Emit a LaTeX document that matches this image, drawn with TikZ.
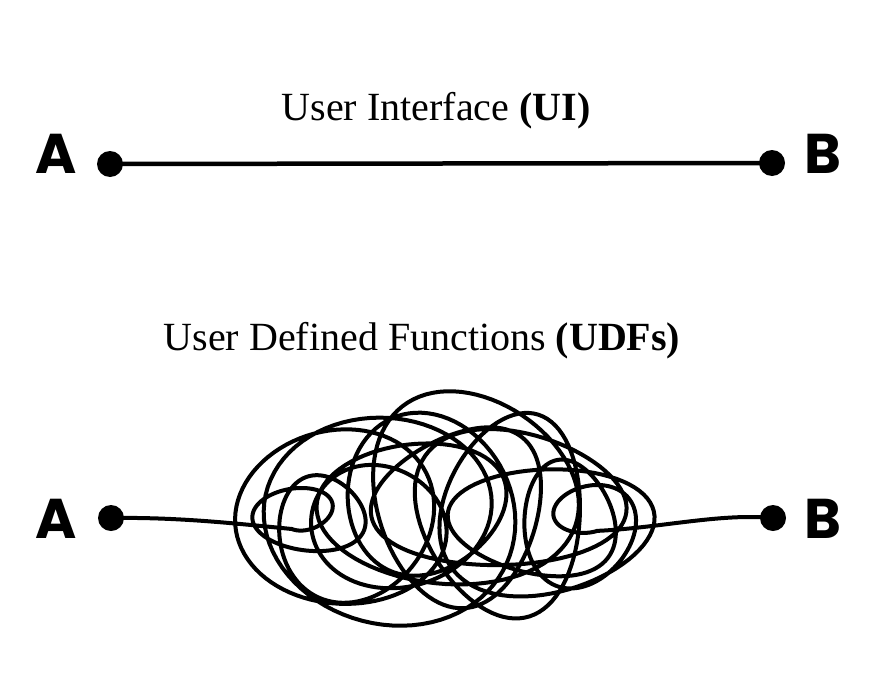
\documentclass[tikz,border=0pt]{standalone}
\usepackage{fontspec}
\setmainfont{Liberation Serif}
\newfontfamily\letterfont{Poppins}
\begin{document}
\begin{tikzpicture}[x=1pt, y=-1pt,
	dot/.style={circle, fill=black, inner sep=0pt, minimum size=26pt},
	rule/.style={line width=4.5pt, black},
	scribble/.style={line width=4pt, black, line join=round, line cap=round},
	heading/.style={anchor=base, font=\fontsize{40}{48}\selectfont},
	letter/.style={anchor=base, font=\letterfont\fontsize{56}{60}\selectfont\bfseries},
	declare function={
		sq(\s)=(2*\s-1)*(2*\s-1);
		env(\s)=0.15+0.85*(1-sq(\s)*sq(\s));
		cenx(\s)=292+306*\s;
		ceny(\s)=513+12*sin(500*\s);
		radx(\s)=128*env(\s)*(0.78+0.27*sin(2300*\s+20));
		rady(\s)=108*env(\s)*(0.8+0.25*cos(1900*\s+40));
		turn(\s)=5040*\s+25*sin(900*\s);
	}]
	\useasboundingbox (0,0) rectangle (875,680);
	% straight road
	\node[heading] (ui) at (436,120) {User Interface \textbf{(UI)}};
	\node[dot] (a1) at (110,164) {};
	\node[dot] (b1) at (772,163) {};
	\node[letter] (la1) at (56,173) {A};
	\node[letter] (lb1) at (823,173) {B};
	\draw[rule] (a1.center) -- (b1.center);
	% tangled road
	\node[heading] (udf) at (422,350) {User Defined Functions \textbf{(UDFs)}};
	\node[dot] (a2) at (111,518) {};
	\node[dot] (b2) at (773,518) {};
	\node[letter] (la2) at (56,538) {A};
	\node[letter] (lb2) at (823,538) {B};
	\draw[scribble] (a2.center) .. controls (180,517) and (240,524) .. (292,529)
		-- plot[domain=0:1, samples=1200, variable=\s]
			({cenx(\s)+radx(\s)*sin(turn(\s))}, {ceny(\s)+rady(\s)*cos(turn(\s))})
		.. controls (660,528) and (720,513) .. (b2.center);
\end{tikzpicture}
\end{document}
